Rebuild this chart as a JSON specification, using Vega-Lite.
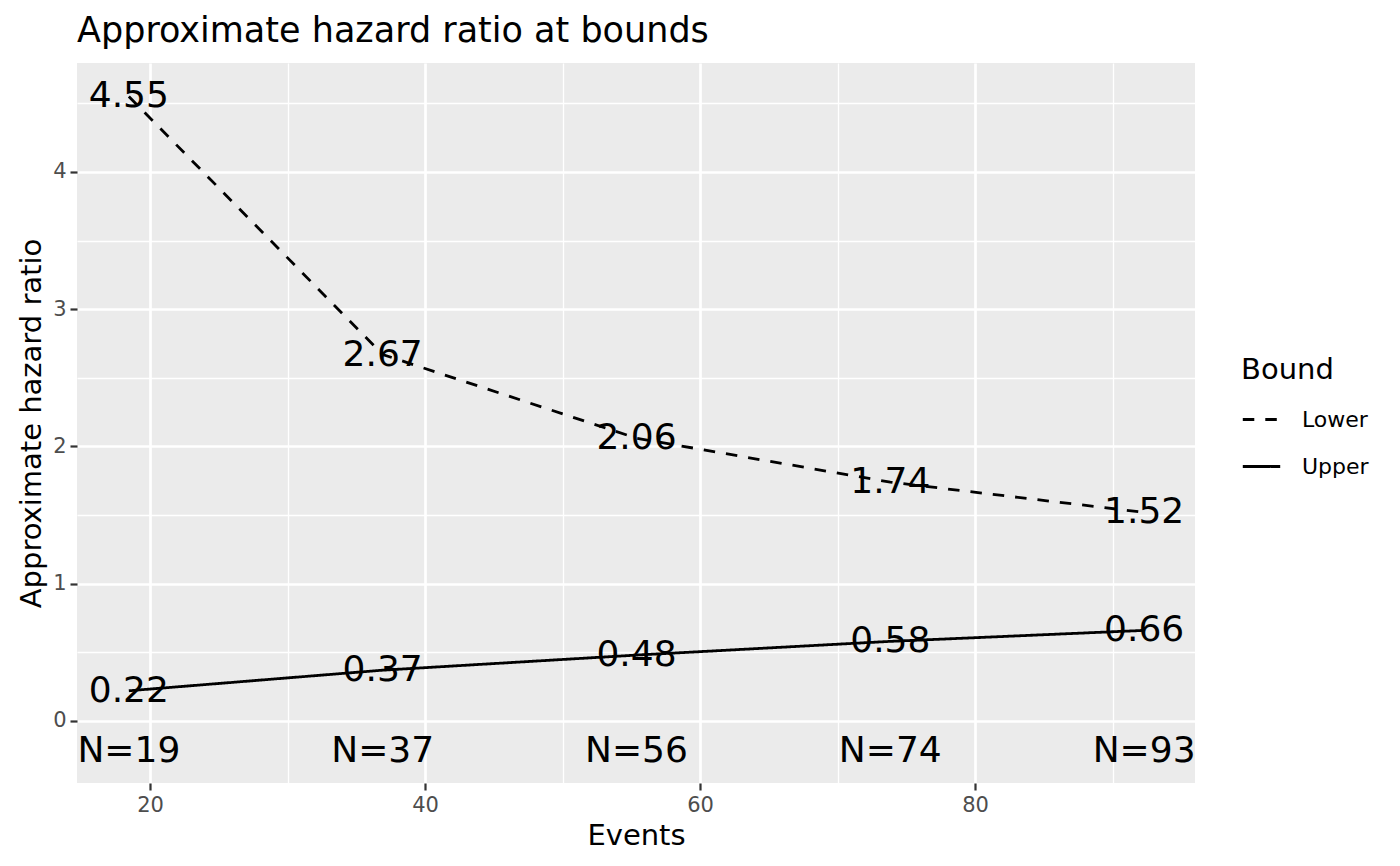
{
  "$schema": "https://vega.github.io/schema/vega-lite/v6.json",
  "width": 1118,
  "height": 720,
  "autosize": {"type": "none"},
  "padding": {"left": 77, "top": 63, "right": 205, "bottom": 83},
  "background": "white",
  "title": {
    "text": "Approximate hazard ratio at bounds",
    "anchor": "start",
    "frame": "group",
    "font": "DejaVu Sans",
    "fontSize": 35,
    "fontWeight": "normal",
    "color": "black",
    "offset": 14
  },
  "config": {
    "view": {"fill": "#EBEBEB", "stroke": null},
    "font": "DejaVu Sans"
  },
  "data": {
    "values": [
      {"Events": 18.46, "N": 19, "NLabel": "N=19", "Bound": "Lower", "HR": 4.55},
      {"Events": 36.92, "N": 37, "NLabel": "N=37", "Bound": "Lower", "HR": 2.67},
      {"Events": 55.38, "N": 56, "NLabel": "N=56", "Bound": "Lower", "HR": 2.06},
      {"Events": 73.84, "N": 74, "NLabel": "N=74", "Bound": "Lower", "HR": 1.74},
      {"Events": 92.3, "N": 93, "NLabel": "N=93", "Bound": "Lower", "HR": 1.52},
      {"Events": 18.46, "N": 19, "NLabel": "N=19", "Bound": "Upper", "HR": 0.22},
      {"Events": 36.92, "N": 37, "NLabel": "N=37", "Bound": "Upper", "HR": 0.37},
      {"Events": 55.38, "N": 56, "NLabel": "N=56", "Bound": "Upper", "HR": 0.48},
      {"Events": 73.84, "N": 74, "NLabel": "N=74", "Bound": "Upper", "HR": 0.58},
      {"Events": 92.3, "N": 93, "NLabel": "N=93", "Bound": "Upper", "HR": 0.66}
    ]
  },
  "encoding": {
    "x": {
      "field": "Events",
      "type": "quantitative",
      "scale": {"domain": [14.69, 96.0], "nice": false, "zero": false},
      "axis": {
        "title": "Events",
        "titleFontSize": 29,
        "titleFontWeight": "normal",
        "titleColor": "black",
        "titlePadding": 6,
        "values": [20, 30, 40, 50, 60, 70, 80, 90],
        "labelExpr": "datum.value % 20 == 0 ? '' + datum.value : ''",
        "labelFontSize": 21,
        "labelColor": "#4D4D4D",
        "labelPadding": 4,
        "domain": false,
        "tickColor": "#333333",
        "tickSize": 7,
        "tickWidth": 2.2,
        "tickOpacity": {"condition": {"test": "datum.value % 20 == 0", "value": 1}, "value": 0},
        "gridColor": "white",
        "gridWidth": {"condition": {"test": "datum.value % 20 == 0", "value": 2.7}, "value": 1.3}
      }
    },
    "y": {
      "field": "HR",
      "type": "quantitative",
      "scale": {"domain": [-0.452, 4.794], "nice": false, "zero": false},
      "axis": {
        "title": "Approximate hazard ratio",
        "titleFontSize": 29,
        "titleFontWeight": "normal",
        "titleColor": "black",
        "titlePadding": 6,
        "values": [0, 0.5, 1, 1.5, 2, 2.5, 3, 3.5, 4, 4.5],
        "labelExpr": "datum.value % 1 == 0 ? '' + datum.value : ''",
        "labelFontSize": 21,
        "labelColor": "#4D4D4D",
        "labelPadding": 4,
        "domain": false,
        "tickColor": "#333333",
        "tickSize": 7,
        "tickWidth": 2.2,
        "tickOpacity": {"condition": {"test": "datum.value % 1 == 0", "value": 1}, "value": 0},
        "gridColor": "white",
        "gridWidth": {"condition": {"test": "datum.value % 1 == 0", "value": 2.7}, "value": 1.3}
      }
    }
  },
  "layer": [
    {
      "mark": {"type": "line", "color": "black", "strokeWidth": 2.8},
      "encoding": {
        "strokeDash": {
          "field": "Bound",
          "type": "nominal",
          "scale": {"domain": ["Lower", "Upper"], "range": [[11.5, 11], [1, 0]]},
          "legend": {
            "title": "Bound",
            "orient": "none",
            "legendX": 1164,
            "legendY": 293,
            "padding": 0,
            "titleFontSize": 29,
            "titleFontWeight": "normal",
            "titleColor": "black",
            "titlePadding": 14,
            "labelFontSize": 22,
            "labelColor": "black",
            "labelOffset": 20,
            "symbolType": "stroke",
            "symbolStrokeColor": "black",
            "symbolStrokeWidth": 2.8,
            "symbolSize": 1400,
            "rowPadding": 15
          }
        }
      }
    },
    {
      "mark": {"type": "text", "fontSize": 36, "color": "black", "align": "center", "baseline": "middle"},
      "encoding": {
        "text": {"field": "HR", "type": "quantitative", "format": ".2f"}
      }
    },
    {
      "transform": [{"filter": "datum.Bound == 'Upper'"}],
      "mark": {"type": "text", "fontSize": 36, "color": "black", "align": "center", "baseline": "middle"},
      "encoding": {
        "y": {"datum": -0.22},
        "text": {"field": "NLabel", "type": "nominal"}
      }
    }
  ]
}
